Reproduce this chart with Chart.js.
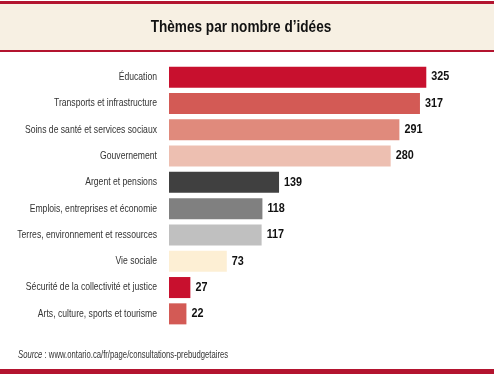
<!DOCTYPE html>
<html>
<head>
<meta charset="utf-8">
<script src="https://cdn.jsdelivr.net/npm/chart.js@4"></script>
<style>
  html, body { margin: 0; padding: 0; background: #fff; }
  #wrap { width: 494px; height: 374px; position: relative; }
</style>
</head>
<body>
<div id="wrap"><canvas id="chart" width="494" height="374"></canvas></div>
<script>
// data
const themes = [
  'Éducation',
  'Transports et infrastructure',
  'Soins de santé et services sociaux',
  'Gouvernement',
  'Argent et pensions',
  'Emplois, entreprises et économie',
  'Terres, environnement et ressources',
  'Vie sociale',
  'Sécurité de la collectivité et justice',
  'Arts, culture, sports et tourisme'
];
const ideas = [325, 317, 291, 280, 139, 118, 117, 73, 27, 22];
const barColors = ['#C8102E', '#D35A55', '#E08A7C', '#EDBFB1', '#404040',
                   '#808080', '#C0C0C0', '#FDEFD4', '#C8102E', '#D35A55'];
const titleText = 'Thèmes par nombre d’idées';
const sourceText = ' : www.ontario.ca/fr/page/consultations-prebudgetaires';

const FONT = '"Liberation Sans", Arial, sans-serif';

// no narrow font available, so squeeze the text horizontally
function narrowText(c, text, x, y, sx, align) {
  c.save();
  c.translate(x, y);
  c.scale(sx, 1);
  c.textAlign = align;
  c.fillText(text, 0, 0);
  c.restore();
}

//////////////////* frame, header and source *//////////////////
const framePlugin = {
  id: 'frame',
  beforeDraw(chart) {
    const c = chart.ctx;
    c.save();
    c.fillStyle = '#fff';
    c.fillRect(0, 0, chart.width, chart.height);
    // header band
    c.fillStyle = '#F7F0E3';
    c.fillRect(0, 4, chart.width, 47);
    c.fillStyle = '#B3142F';
    c.fillRect(0, 1, chart.width, 3);
    c.fillRect(0, 50, chart.width, 2);
    c.fillRect(0, 369, chart.width, 5);
    c.fillStyle = '#111';
    c.font = 'bold 16px ' + FONT;
    c.textBaseline = 'middle';
    narrowText(c, titleText, chart.width / 2 - 6, 28, 0.85, 'center');
    // source line
    c.fillStyle = '#333';
    c.font = 'italic 10px ' + FONT;
    narrowText(c, 'Source', 18, 355, 0.77, 'left');
    const w = c.measureText('Source').width * 0.77;
    c.font = '10px ' + FONT;
    narrowText(c, sourceText, 18 + w, 355, 0.77, 'left');
    c.restore();
  },
  afterDatasetsDraw(chart) {
    const c = chart.ctx;
    const meta = chart.getDatasetMeta(0);
    const yScale = chart.scales.y;
    c.save();
    c.textBaseline = 'middle';
    // category labels
    c.fillStyle = '#333';
    c.font = '10.5px ' + FONT;
    themes.forEach((t, i) => {
      narrowText(c, t, 157, yScale.getPixelForTick(i), 0.82, 'right');
    });
    // value labels
    c.fillStyle = '#111';
    c.font = 'bold 12px ' + FONT;
    meta.data.forEach((bar, i) => {
      narrowText(c, String(ideas[i]), bar.x + 5, bar.y, 0.9, 'left');
    });
    c.restore();
  }
};

const ctx = document.getElementById('chart').getContext('2d');
new Chart(ctx, {
  type: 'bar',
  data: {
    labels: themes,
    datasets: [{
      data: ideas,
      backgroundColor: barColors,
      borderWidth: 0,
      barPercentage: 0.8,
      categoryPercentage: 1
    }]
  },
  options: {
    indexAxis: 'y',
    responsive: false,
    animation: false,
    layout: { padding: { top: 64, bottom: 47, left: 0, right: 40 } },
    scales: {
      x: { display: false, min: 0, max: 360 },
      y: {
        grid: { display: false },
        border: { display: false },
        afterFit(scale) { scale.width = 169; },
        ticks: { display: false }
      }
    },
    plugins: {
      legend: { display: false },
      tooltip: { enabled: false }
    }
  },
  plugins: [framePlugin]
});
</script>
</body>
</html>
